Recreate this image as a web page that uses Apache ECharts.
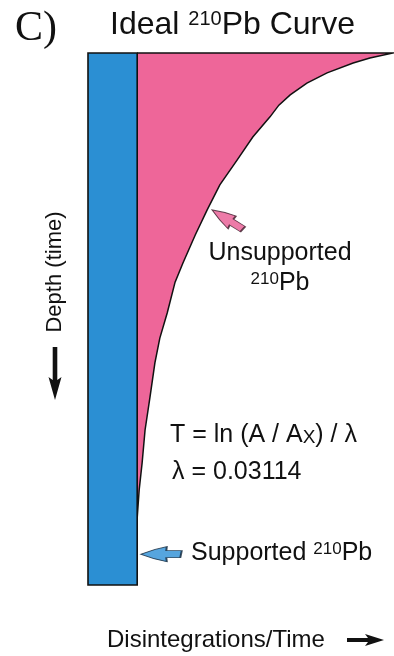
<!DOCTYPE html>
<html><head><meta charset="utf-8">
<script src="https://cdn.jsdelivr.net/npm/echarts@6/dist/echarts.min.js"></script>
<style>html,body{margin:0;padding:0;background:#fff}#c{width:394px;height:656px}</style>
</head><body><div id="c"></div>
<script>
// Depth down the core expressed as age (years); activity in relative units
const depthYears = [0, 1.4, 2.8, 5.6, 8.5, 11.8, 14.7, 18.0, 23.7, 30.2, 37.2, 44.3, 51.3, 59.2, 64.6, 73.3, 80.4, 87.4, 97.0, 106.3, 115.6, 123.2, 131.1];
const totalActivity = [6.20, 5.73, 5.39, 4.86, 4.45, 4.11, 3.88, 3.70, 3.35, 3.03, 2.68, 2.42, 2.18, 1.93, 1.77, 1.61, 1.46, 1.36, 1.26, 1.16, 1.10, 1.04, 1.00];
const supportedActivity = 1.0;
const coreBottomYears = 150;
const activityAxisMax = 6.2;
// annotation arrows (centre of each arrow): unsupported, supported
const arrowActivity = [2.84, 1.49];
const arrowYears = [47.0, 141.3];

const PINK = '#EE6699';
const BLUE = '#2B8FD3';
const INK = '#111111';
const SANS = '"Liberation Sans", Arial, Helvetica, sans-serif';
const ARROW = 'path://M0,7.5 Q13,2.5 26,0 L25.5,4 L41,4 L39.5,11 L25.5,11 L26,15 Q13,12.5 0,7.5 Z';

const chart = echarts.init(document.getElementById('c'), null, {renderer: 'canvas'});

function supTitle(mainSize, supSize, supH) {
  return {
    m: {fontSize: mainSize, fontFamily: SANS, lineHeight: mainSize, fill: INK},
    s: {fontSize: supSize, fontFamily: SANS, lineHeight: supH, verticalAlign: 'top', fill: INK}
  };
}

const option = {
  animation: false,
  backgroundColor: '#ffffff',
  grid: {left: 88, top: 53, width: 305, height: 532},
  xAxis: {type: 'value', min: 0, max: activityAxisMax, position: 'top', show: false},
  yAxis: {type: 'value', min: 0, max: coreBottomYears, inverse: true, show: false},
  series: [
    {
      type: 'custom', name: 'unsupported', silent: true, z: 2,
      data: [[supportedActivity, 0]],
      encode: {x: 0, y: 1},
      renderItem: function (params, api) {
        const curve = depthYears.map((d, i) => api.coord([totalActivity[i], d]));
        const top = api.coord([supportedActivity, 0]);
        const end = api.coord([supportedActivity, depthYears[depthYears.length - 1]]);
        return {
          type: 'group',
          children: [
            {type: 'polygon', shape: {points: [top].concat(curve, [end])}, style: {fill: PINK}},
            {type: 'polyline', shape: {points: [top].concat(curve)}, style: {stroke: INK, lineWidth: 1.5, fill: null}}
          ]
        };
      }
    },
    {
      type: 'custom', name: 'supported', silent: true, z: 3,
      data: [[supportedActivity, coreBottomYears]],
      encode: {x: 0, y: 1},
      renderItem: function (params, api) {
        const p0 = api.coord([0, 0]);
        const p1 = api.coord([supportedActivity, coreBottomYears]);
        return {
          type: 'rect',
          shape: {x: p0[0], y: p0[1], width: p1[0] - p0[0], height: p1[1] - p0[1]},
          style: {fill: BLUE, stroke: INK, lineWidth: 1.6}
        };
      }
    },
    {
      type: 'scatter', name: 'arrows', silent: true, z: 5,
      data: [
        {value: [arrowActivity[0], arrowYears[0]], symbol: ARROW, symbolSize: [37, 15], symbolRotate: -32,
         itemStyle: {color: '#E95A92', borderColor: '#3a1a28', borderWidth: 1.2}},
        {value: [arrowActivity[1], arrowYears[1]], symbol: ARROW, symbolSize: [41, 15], symbolRotate: 0,
         itemStyle: {color: '#2C8ED6', borderColor: '#10263a', borderWidth: 1.2}}
      ]
    }
  ],
  graphic: [
    {type: 'text', x: 15, y: 29, style: {text: 'C)', font: '42px "Liberation Serif", "Times New Roman", serif', fill: INK, align: 'left', verticalAlign: 'middle'}},
    {type: 'text', x: 110, y: 25, style: {text: '{m|Ideal }{s|210}{m|Pb Curve}', rich: supTitle(32, 20, 13), align: 'left', verticalAlign: 'middle'}},
    {type: 'text', x: 280, y: 253, style: {text: 'Unsupported', font: '25px ' + SANS, fill: INK, align: 'center', verticalAlign: 'middle'}},
    {type: 'text', x: 280, y: 283, style: {text: '{s|210}{m|Pb}', rich: supTitle(25, 17, 11), align: 'center', verticalAlign: 'middle'}},
    {type: 'text', x: 170, y: 435, style: {text: '{m|T = ln (A / A}{b|X}{m|) / λ}', rich: {
      m: {fontSize: 25, fontFamily: SANS, lineHeight: 25, fill: INK},
      b: {fontSize: 19, fontFamily: SANS, lineHeight: 1, verticalAlign: 'bottom', fill: INK}
    }, align: 'left', verticalAlign: 'middle'}},
    {type: 'text', x: 172, y: 472, style: {text: 'λ = 0.03114', font: '25px ' + SANS, fill: INK, align: 'left', verticalAlign: 'middle'}},
    {type: 'text', x: 191, y: 553, style: {text: '{m|Supported }{s|210}{m|Pb}', rich: supTitle(25, 17, 11), align: 'left', verticalAlign: 'middle'}},
    {type: 'text', x: 55, y: 272, rotation: Math.PI / 2, style: {text: 'Depth (time)', font: '22px ' + SANS, fill: INK, align: 'center', verticalAlign: 'middle'}},
    {type: 'polygon', shape: {points: [[52.7, 347], [57.3, 347], [57.3, 380], [61.5, 377], [55, 400], [48.5, 377], [52.7, 380]]}, style: {fill: INK}},
    {type: 'text', x: 107, y: 640, style: {text: 'Disintegrations/Time', font: '24px ' + SANS, fill: INK, align: 'left', verticalAlign: 'middle'}},
    {type: 'polygon', shape: {points: [[347, 638], [368, 638], [365, 634], [384, 640], [365, 646], [368, 642], [347, 642]]}, style: {fill: INK}}
  ]
};
chart.setOption(option);
</script>
</body></html>
